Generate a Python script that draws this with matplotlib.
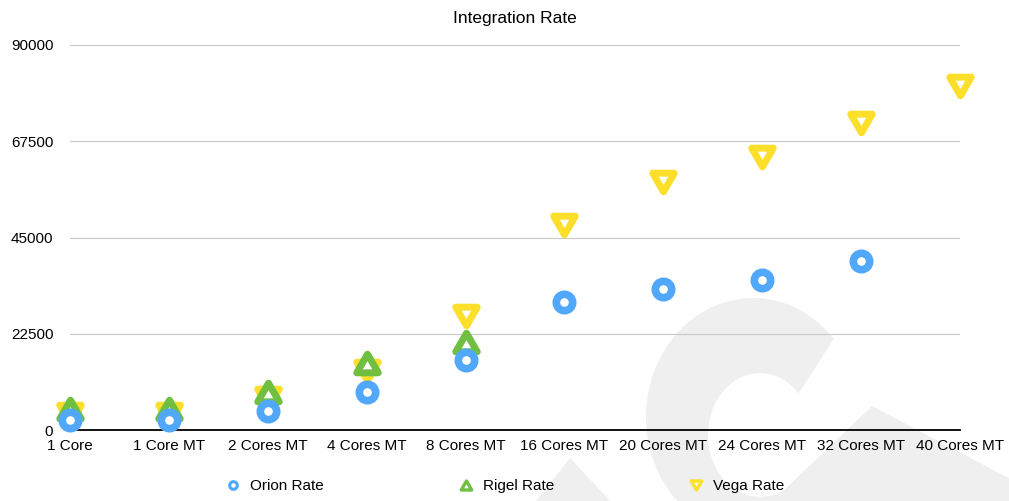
import numpy as np
import matplotlib
matplotlib.use("Agg")
import matplotlib.pyplot as plt
from matplotlib.path import Path
from matplotlib.markers import MarkerStyle
from matplotlib.patches import Polygon
from matplotlib.lines import Line2D

plt.rcParams['font.family'] = ['Liberation Sans', 'DejaVu Sans']

# ---------------------------- data ------------------------------------------
categories = ['1 Core', '1 Core MT', '2 Cores MT', '4 Cores MT', '8 Cores MT',
              '16 Cores MT', '20 Cores MT', '24 Cores MT', '32 Cores MT', '40 Cores MT']
orion_rate = [2340, 2340, 4520, 8960, 16290, 29850, 32890, 35140, 39580, np.nan]
rigel_rate = [4800, 4850, 8770, 15550, 20570, np.nan, np.nan, np.nan, np.nan, np.nan]
vega_rate = [3740, 3740, 7400, 13870, 26690, 47970, 57860, 63900, 71880, 80300]
yticks = [0, 22500, 45000, 67500, 90000]

blue = '#51a7f9'
green = '#70bf41'
yellow = '#fbdf2a'

# equilateral triangles, centred on their bounding box
tri_dn = MarkerStyle(Path([(-1, 0.866), (1, 0.866), (0, -0.866), (-1, 0.866)], closed=True), joinstyle='miter')
tri_up = MarkerStyle(Path([(-1, -0.866), (1, -0.866), (0, 0.866), (-1, -0.866)], closed=True), joinstyle='miter')

W, H = 1009, 501
fig = plt.figure(figsize=(W / 100, H / 100), dpi=100)
ax = fig.add_axes([70 / W, 1 - 430 / H, 890 / W, 385 / H])
ax.patch.set_visible(False)

# light watermark in the background
t1 = np.radians(np.linspace(41, 250, 80))
outer = np.column_stack([753 + 107 * np.cos(t1), 417 - 119 * np.sin(t1)])
t2 = np.radians(np.linspace(-62, -318, 80))
inner = np.column_stack([760 + 52 * np.cos(t2), 435 - 62 * np.sin(t2)])
mark = np.vstack([outer, [(660, 520), (1020, 520), (1020, 484), (872, 406)], inner])
wm_shapes = [mark, np.array([(570, 458), (533, 505), (614, 505)])]
for pts in wm_shapes:
    fig.add_artist(Polygon(np.column_stack([pts[:, 0] / W, 1 - pts[:, 1] / H]),
                           closed=True, transform=fig.transFigure,
                           facecolor='#efefef', edgecolor='none', zorder=-5))

x = np.arange(len(categories))
ax.plot(x, vega_rate, linestyle='none', marker=tri_dn, ms=15.5, mew=5,
        mec=yellow, mfc='white', clip_on=False, zorder=3)
ax.plot(x, rigel_rate, linestyle='none', marker=tri_up, ms=15.5, mew=5,
        mec=green, mfc='white', clip_on=False, zorder=4)
ax.plot(x, orion_rate, linestyle='none', marker='o', ms=11.8, mew=5.5,
        mec=blue, mfc='white', clip_on=False, zorder=5)

ax.set_xlim(0, len(categories) - 1)
ax.set_ylim(0, 90000)
ax.set_xticks(x)
ax.set_xticklabels(categories, fontsize=11)
ax.set_yticks(yticks)
ax.set_yticklabels([str(v) for v in yticks], fontsize=11)
ax.tick_params(axis='both', length=0)
ax.tick_params(axis='y', pad=12)
ax.tick_params(axis='x', pad=6.5)
ax.yaxis.grid(True, color='#c8c8c8', linewidth=0.8)
ax.set_axisbelow(True)
for s in ['top', 'right', 'left']:
    ax.spines[s].set_visible(False)
ax.spines['bottom'].set_color('black')
ax.spines['bottom'].set_linewidth(1.3)

ax.set_title('Integration Rate', fontsize=12.5, pad=15.6)

handles = [
    Line2D([], [], linestyle='none', marker='o', ms=5.5, mew=2.2, mec=blue, mfc='white'),
    Line2D([], [], linestyle='none', marker=tri_up, ms=7.5, mew=2.4, mec=green, mfc='white'),
    Line2D([], [], linestyle='none', marker=tri_dn, ms=7.5, mew=2.4, mec=yellow, mfc='white'),
]
fig.legend(handles, ['Orion Rate', 'Rigel Rate', 'Vega Rate'], ncol=3, frameon=False,
           loc='center left', bbox_to_anchor=(225.4 / W, 1 - 486 / H),
           fontsize=11, handlelength=1, handletextpad=0.61, columnspacing=8.8,
           borderpad=0, borderaxespad=0)

fig.savefig('out.png', dpi=100)
